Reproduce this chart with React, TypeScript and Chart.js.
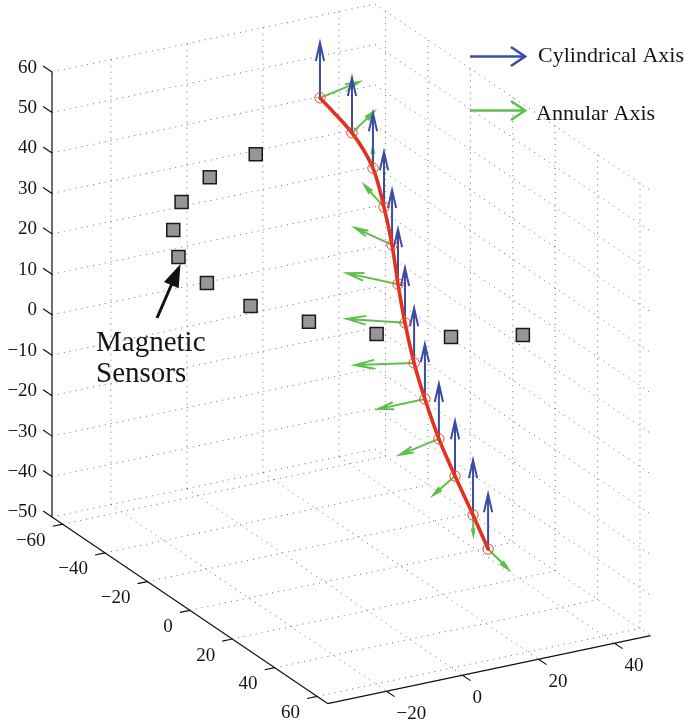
import React, { useEffect, useRef } from "react";
import { Chart, registerables } from "chart.js";

Chart.register(...registerables);

const W = 687;
const H = 722;

// ---- axis limits and ticks (data units) ----
const xLimits = [-35.5, 49.5];
const yLimits = [-65, 65];
const zLimits = [-50, 60];
const xTicks = [-20, 0, 20, 40];
const yTicks = [-60, -40, -20, 0, 20, 40, 60];
const zTicks = [-50, -40, -30, -20, -10, 0, 10, 20, 30, 40, 50, 60];

// ---- magnetic sensors (3D) ----
const sensorX = [17, 1, -12, -22, -29, -31, -29, -22, -12, 2, 17];
const sensorY = [-63, -56, -46, -32, -17, 0, 17, 32, 46, 56, 63];
const sensorZ = [30, 30, 30, 30, 30, 30, 30, 30, 30, 30, 30];

// ---- trajectory points (3D) ----
const pathX = [17, 17, 17, 17, 17, 17, 17, 17, 17, 17, 17, 17, 17];
const pathY = [-32.7, -17.6, -7.7, -2.5, 1.3, 4.1, 7.4, 11.7, 16.8, 23.4, 31.0, 39.5, 46.6];
const pathZ = [54.7, 51.4, 46.2, 38.4, 30.4, 21.7, 13.3, 4.9, -2.2, -9.7, -16.2, -22.8, -28.7];

// ---- cylindrical axis vectors (blue) ----
const cylU = [0, 0, 0, 0, 0, 0, 0, 0, 0, 0, 0, 0, 0];
const cylV = [0, 0, 0, 0, 0, 0, 0, 0, 0, 0, 0, 0, 0];
const cylW = [13.6, 13.6, 13.6, 13.6, 13.6, 13.6, 13.6, 13.6, 13.6, 13.6, 13.6, 13.6, 13.6];

// ---- annular axis vectors (green) ----
const annU = [12.6, 10.6, 6.2, 2.6, -2.4, -7.0, -10.5, -12.5, -12.4, -12.6, -10.0, -5.9, -1.9];
const annV = [-4.1, -8.7, -11.2, -13.9, -13.2, -11.6, -8.6, -5.6, 0.1, 4.1, 7.7, 10.7, 12.9];
const annW = [0, 0, 0, 0, 0, 0, 0, 0, 0, 0, 0, 0, 0];

const legendLabels = ["Cylindrical Axis", "Annular Axis"];
const annotationLines = ["Magnetic", "Sensors"];

// ---- view (projection of 3D data onto the chart's 2D value space) ----
const VIEW_ORIGIN = [324.7, 379.65];
const DIR_X = [3.8, -0.8];
const DIR_Y = [2.12, 1.435];
const DIR_Z = [0, -4.045];

const BLUE = "#3a4ca3";
const GREEN = "#5cc04a";
const RED = "#e2321f";

type P = { x: number; y: number };
const GAP: P = { x: NaN, y: NaN };

function proj(x: number, y: number, z: number): P {
  return {
    x: VIEW_ORIGIN[0] + x * DIR_X[0] + y * DIR_Y[0] + z * DIR_Z[0],
    y: VIEW_ORIGIN[1] + x * DIR_X[1] + y * DIR_Y[1] + z * DIR_Z[1],
  };
}

function segs(list: number[][][]): P[] {
  const out: P[] = [];
  list.forEach(([a, b]) => {
    out.push(proj(a[0], a[1], a[2]), proj(b[0], b[1], b[2]), GAP);
  });
  return out;
}

function arrows(
  bx: number[], by: number[], bz: number[],
  u: number[], v: number[], w: number[],
  headFrac = 0.33, widthFrac = 0.075
): P[] {
  const out: P[] = [];
  bx.forEach((_, i) => {
    const p0 = proj(bx[i], by[i], bz[i]);
    const p1 = proj(bx[i] + u[i], by[i] + v[i], bz[i] + w[i]);
    const dx = p1.x - p0.x;
    const dy = p1.y - p0.y;
    const L = Math.hypot(dx, dy) || 1;
    const ux = dx / L;
    const uy = dy / L;
    const hl = L * headFrac;
    const hw = L * widthFrac;
    const w1 = { x: p1.x - ux * hl - uy * hw, y: p1.y - uy * hl + ux * hw };
    const w2 = { x: p1.x - ux * hl + uy * hw, y: p1.y - uy * hl - ux * hw };
    out.push(p0, p1, GAP, w1, p1, w2, GAP);
  });
  return out;
}

const [x0, x1] = xLimits;
const [y0, y1] = yLimits;
const [z0, z1] = zLimits;

// grid lines on the back walls and floor
const gridList: number[][][] = [];
xTicks.forEach((x) => {
  gridList.push([[x, y0, z0], [x, y0, z1]]);
  gridList.push([[x, y0, z0], [x, y1, z0]]);
});
yTicks.forEach((y) => {
  gridList.push([[x1, y, z0], [x1, y, z1]]);
  gridList.push([[x0, y, z0], [x1, y, z0]]);
});
zTicks.forEach((z) => {
  gridList.push([[x0, y0, z], [x1, y0, z]]);
  gridList.push([[x1, y0, z], [x1, y1, z]]);
});

const Z_TICK_LEN = 4.2;
const Y_TICK_LEN = 2.6;
const X_TICK_LEN = 3.8;

const axisList: number[][][] = [
  [[x0, y0, z0], [x0, y0, z1]],
  [[x0, y0, z0], [x0, y1, z0]],
  [[x0, y1, z0], [x1, y1, z0]],
];
zTicks.forEach((z) => axisList.push([[x0, y0, z], [x0, y0 - Z_TICK_LEN, z]]));
yTicks.forEach((y) => axisList.push([[x0, y, z0], [x0 - Y_TICK_LEN, y, z0]]));
xTicks.forEach((x) => axisList.push([[x, y1, z0], [x, y1 + X_TICK_LEN, z0]]));

const fmt = (v: number) => (v < 0 ? "\u2212" + Math.abs(v) : String(v));
const SERIF = '"Liberation Serif", "Times New Roman", serif';

const overlay = {
  id: "overlay",
  afterDatasetsDraw(chart: any) {
    const { ctx } = chart;
    const sx = chart.scales.x;
    const sy = chart.scales.y;
    const px = (p: P) => ({ x: sx.getPixelForValue(p.x), y: sy.getPixelForValue(p.y) });
    ctx.save();
    ctx.fillStyle = "#151515";
    ctx.font = "19px " + SERIF;
    ctx.textBaseline = "alphabetic";

    ctx.textAlign = "right";
    zTicks.forEach((z) => {
      const p = px(proj(x0, y0 - Z_TICK_LEN, z));
      ctx.fillText(fmt(z), p.x - 6, p.y + 6.5);
    });
    yTicks.forEach((y) => {
      const p = px(proj(x0, y, z0));
      ctx.fillText(fmt(y), p.x - 17, p.y + 21.5);
    });
    ctx.textAlign = "left";
    xTicks.forEach((x) => {
      const p = px(proj(x, y1, z0));
      ctx.fillText(fmt(x), p.x + 10, p.y + 27.5);
    });

    // legend
    const legend = [
      { color: BLUE, y: 56.5, baseline: 62, label: legendLabels[0], tx: 538 },
      { color: GREEN, y: 110.5, baseline: 120, label: legendLabels[1], tx: 536 },
    ];
    legend.forEach((l) => {
      ctx.strokeStyle = l.color;
      ctx.lineWidth = 2.6;
      ctx.lineCap = "butt";
      ctx.lineJoin = "miter";
      ctx.beginPath();
      ctx.moveTo(470, l.y);
      ctx.lineTo(524, l.y);
      ctx.stroke();
      ctx.beginPath();
      ctx.moveTo(511, l.y - 9.5);
      ctx.lineTo(525, l.y);
      ctx.lineTo(511, l.y + 9.5);
      ctx.stroke();
      ctx.fillStyle = "#151515";
      ctx.font = "22px " + SERIF;
      ctx.textAlign = "left";
      ctx.fillText(l.label, l.tx, l.baseline);
    });

    // annotation: text arrow
    const tail = { x: 157, y: 318 };
    const tip = { x: 180.5, y: 264 };
    const dx = tip.x - tail.x;
    const dy = tip.y - tail.y;
    const L = Math.hypot(dx, dy);
    const ux = dx / L;
    const uy = dy / L;
    const hl = 23;
    const hw = 8;
    const base = { x: tip.x - ux * hl, y: tip.y - uy * hl };
    ctx.strokeStyle = "#111";
    ctx.lineWidth = 3;
    ctx.beginPath();
    ctx.moveTo(tail.x, tail.y);
    ctx.lineTo(base.x + ux * 2, base.y + uy * 2);
    ctx.stroke();
    ctx.fillStyle = "#111";
    ctx.beginPath();
    ctx.moveTo(tip.x, tip.y);
    ctx.lineTo(base.x - uy * hw, base.y + ux * hw);
    ctx.lineTo(base.x + uy * hw, base.y - ux * hw);
    ctx.closePath();
    ctx.fill();

    ctx.font = "29px " + SERIF;
    ctx.fillStyle = "#151515";
    ctx.textAlign = "left";
    ctx.fillText(annotationLines[0], 96, 351);
    ctx.fillText(annotationLines[1], 96, 382);
    ctx.restore();
  },
};

export default function App() {
  const ref = useRef<HTMLCanvasElement>(null);
  useEffect(() => {
    document.body.style.margin = "0";
    const canvas = ref.current;
    if (!canvas) return;

    const sensors = sensorX.map((_, i) => proj(sensorX[i], sensorY[i], sensorZ[i]));
    const path = pathX.map((_, i) => proj(pathX[i], pathY[i], pathZ[i]));

    const lineDs = (data: P[], color: string, width: number, order: number, dash: number[] = []) => ({
      data,
      showLine: true,
      borderColor: color,
      borderWidth: width,
      borderDash: dash,
      pointRadius: 0,
      pointHoverRadius: 0,
      spanGaps: false,
      tension: 0,
      order,
    });

    const chart = new Chart(canvas, {
      type: "scatter",
      data: {
        datasets: [
          lineDs(segs(gridList), "#6a6a6a", 1, 20, [1, 5]),
          lineDs(segs(axisList), "#111", 1.2, 19),
          {
            data: sensors,
            pointStyle: "rect",
            pointRadius: 9.2,
            pointHoverRadius: 9.2,
            backgroundColor: "#969696",
            borderColor: "#1a1a1a",
            borderWidth: 1.5,
            order: 15,
          },
          lineDs(arrows(pathX, pathY, pathZ, annU, annV, annW), GREEN, 2, 12),
          lineDs(arrows(pathX, pathY, pathZ, cylU, cylV, cylW), BLUE, 2, 11),
          { ...lineDs(path, RED, 3.6, 10), tension: 0.3, borderCapStyle: "round" },
          {
            data: path,
            pointStyle: "circle",
            pointRadius: 5.2,
            pointHoverRadius: 5.2,
            backgroundColor: "rgba(0,0,0,0)",
            borderColor: "#ea4a3a",
            borderWidth: 1,
            order: 9,
          },
        ] as any,
      },
      options: {
        animation: false,
        responsive: false,
        maintainAspectRatio: false,
        devicePixelRatio: 1,
        events: [],
        layout: { padding: 0, autoPadding: false },
        plugins: { legend: { display: false }, tooltip: { enabled: false } },
        scales: {
          x: { type: "linear", min: 0, max: W, display: false },
          y: { type: "linear", min: 0, max: H, reverse: true, display: false },
        },
      } as any,
      plugins: [overlay],
    });
    return () => chart.destroy();
  }, []);

  return (
    <div style={{ width: W, height: H, overflow: "hidden", background: "#fff" }}>
      <canvas ref={ref} width={W} height={H} style={{ display: "block", width: W, height: H }} />
    </div>
  );
}
